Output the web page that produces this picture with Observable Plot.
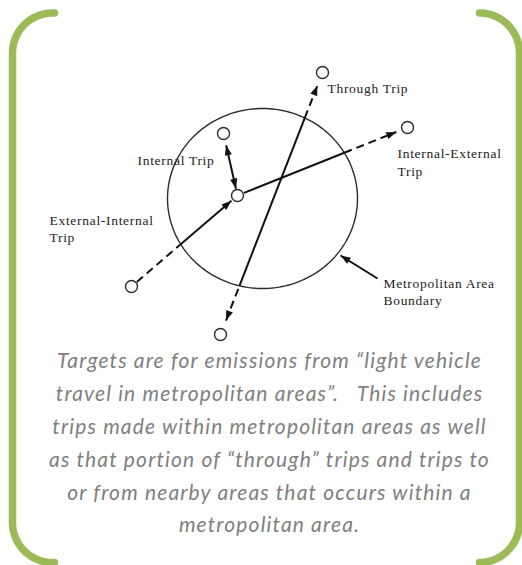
<!DOCTYPE html>
<html>
<head>
<meta charset="utf-8">
<script src="https://cdn.jsdelivr.net/npm/d3@7"></script>
<script src="https://cdn.jsdelivr.net/npm/@observablehq/plot@0.6"></script>
<style>
  html, body { margin: 0; padding: 0; background: #fff; }
  #chart svg { display: block; }
  g[font-family="Liberation Serif"] { letter-spacing: 0.7px; }
  g[font-family="Lato"] { letter-spacing: 1.15px; }
</style>
</head>
<body>
<div id="chart"></div>
<script>
// ---------- data ----------
const W = 522, H = 565;

// Metropolitan area boundary (ellipse): centre and radii
const boundaryCenter = [262, 198];
const boundaryRadii = [95, 90];

// Trip end points (small circles)
const nodeIds = ["center", "internal", "internalExternal", "externalInternal", "throughTop", "throughBottom"];
const nodeX = [237, 223, 407, 131, 322, 220];
const nodeY = [195, 133, 127, 286, 72, 334];

// Trips: from node, to node, arrowhead at start / end, gap of the line tip from node centre
const tripNames = ["Internal", "External-Internal", "Internal-External", "Through"];
const tripFrom = ["center", "externalInternal", "center", "throughBottom"];
const tripTo = ["internal", "center", "internalExternal", "throughTop"];
const tripArrowStart = [true, false, false, true];
const tripArrowEnd = [true, true, true, true];
const tripGapStart = [7, 7, 7, 15];
const tripGapEnd = [12, 8, 12, 14];

// Pointer to the boundary
const pointerFrom = [377, 278];
const pointerTo = [340, 255];

// Diagram labels (one row per line)
const labelText = ["Through Trip", "Internal Trip", "Internal-External", "Trip", "External-Internal", "Trip", "Metropolitan Area", "Boundary"];
const labelX = [327, 137, 397, 397, 49, 49, 383, 383];
const labelY = [92, 164, 157, 175, 224, 241, 287, 304];

// Caption lines
const captionLines = [
  "Targets are for emissions from \u201Clight vehicle",
  "travel in metropolitan areas\u201D.   This includes",
  "trips made within metropolitan areas as well",
  "as that portion of \u201Cthrough\u201D trips and trips to",
  "or from nearby areas that occurs within a",
  "metropolitan area."
];
const captionX = 269;
const captionY = [367, 400, 433, 466, 499, 531];

// Green frame brackets
const frameLeft = 12, frameRight = 519, frameTop = 12.5, frameBottom = 562;
const frameLeftEnd = 54, frameRightStart = 483, frameRadius = 40;

// ---------- geometry helpers ----------
const node = Object.fromEntries(nodeIds.map((id, i) => [id, {id, x: nodeX[i], y: nodeY[i]}]));

function ellipseInside(x, y) {
  const dx = (x - boundaryCenter[0]) / boundaryRadii[0], dy = (y - boundaryCenter[1]) / boundaryRadii[1];
  return dx * dx + dy * dy < 1;
}
function ellipseHits(p, q) {
  const [cx, cy] = boundaryCenter, [rx, ry] = boundaryRadii;
  const ax = (p.x - cx) / rx, ay = (p.y - cy) / ry;
  const bx = (q.x - p.x) / rx, by = (q.y - p.y) / ry;
  const A = bx * bx + by * by, B = 2 * (ax * bx + ay * by), C = ax * ax + ay * ay - 1;
  const D = B * B - 4 * A * C;
  if (D <= 0) return [];
  const s = Math.sqrt(D);
  return [(-B - s) / (2 * A), (-B + s) / (2 * A)].filter(t => t > 0 && t < 1);
}

const segments = [];
const heads = [];
tripNames.forEach((name, i) => {
  const a = node[tripFrom[i]], b = node[tripTo[i]];
  const len = Math.hypot(b.x - a.x, b.y - a.y);
  const ux = (b.x - a.x) / len, uy = (b.y - a.y) / len;
  const p = {x: a.x + ux * tripGapStart[i], y: a.y + uy * tripGapStart[i]};
  const q = {x: b.x - ux * tripGapEnd[i], y: b.y - uy * tripGapEnd[i]};
  const ts = [0, ...ellipseHits(p, q), 1];
  for (let k = 0; k < ts.length - 1; k++) {
    const t0 = ts[k], t1 = ts[k + 1], tm = (t0 + t1) / 2;
    const mx = p.x + (q.x - p.x) * tm, my = p.y + (q.y - p.y) * tm;
    segments.push({
      trip: name,
      x1: p.x + (q.x - p.x) * t0, y1: p.y + (q.y - p.y) * t0,
      x2: p.x + (q.x - p.x) * t1, y2: p.y + (q.y - p.y) * t1,
      inside: ellipseInside(mx, my)
    });
  }
  const ang = Math.atan2(ux, -uy) * 180 / Math.PI;
  if (tripArrowEnd[i]) heads.push({x: q.x, y: q.y, angle: ang});
  if (tripArrowStart[i]) heads.push({x: p.x, y: p.y, angle: ang + 180});
});
{
  const dx = pointerTo[0] - pointerFrom[0], dy = pointerTo[1] - pointerFrom[1];
  heads.push({x: pointerTo[0], y: pointerTo[1], angle: Math.atan2(dx, -dy) * 180 / Math.PI});
}

const boundaryPts = d3.range(0, 361, 2).map(deg => {
  const a = deg * Math.PI / 180;
  return {x: boundaryCenter[0] + boundaryRadii[0] * Math.cos(a), y: boundaryCenter[1] + boundaryRadii[1] * Math.sin(a)};
});

function arc(cx, cy, r, a0, a1, side) {
  return d3.range(0, 21).map(k => {
    const a = (a0 + (a1 - a0) * k / 20) * Math.PI / 180;
    return {x: cx + r * Math.cos(a), y: cy + r * Math.sin(a), side};
  });
}
const R = frameRadius;
const bracketPts = [
  {x: frameLeftEnd, y: frameTop, side: "L"},
  ...arc(frameLeft + R, frameTop + R, R, -90, -180, "L"),
  ...arc(frameLeft + R, frameBottom - R, R, 180, 90, "L"),
  {x: frameLeftEnd, y: frameBottom, side: "L"},
  {x: frameRightStart, y: frameTop, side: "R"},
  ...arc(frameRight - R, frameTop + R, R, -90, 0, "R"),
  ...arc(frameRight - R, frameBottom - R, R, 0, 90, "R"),
  {x: frameRightStart, y: frameBottom, side: "R"}
];

const arrowSymbol = {
  draw(ctx) {
    ctx.moveTo(0, 0);
    ctx.lineTo(3.6, 10);
    ctx.lineTo(-3.6, 10);
    ctx.closePath();
  }
};

const labels = labelText.map((t, i) => ({t, x: labelX[i], y: labelY[i]}));
const captions = captionLines.map((t, i) => ({t, x: captionX, y: captionY[i]}));
const nodes = nodeIds.map(id => node[id]);

const chart = Plot.plot({
  width: W,
  height: H,
  margin: 0,
  x: {domain: [0, W], range: [0, W], axis: null},
  y: {domain: [0, H], range: [0, H], axis: null},
  marks: [
    Plot.line(bracketPts, {x: "x", y: "y", z: "side", stroke: "#9bbb59", strokeWidth: 7.5, strokeLinejoin: "round"}),
    Plot.line(boundaryPts, {x: "x", y: "y", stroke: "#2b2b2b", strokeWidth: 1.4}),
    Plot.link(segments.filter(d => d.inside), {x1: "x1", y1: "y1", x2: "x2", y2: "y2", stroke: "#111", strokeWidth: 2}),
    Plot.link(segments.filter(d => !d.inside), {x1: "x1", y1: "y1", x2: "x2", y2: "y2", stroke: "#111", strokeWidth: 2, strokeDasharray: "8,5"}),
    Plot.link([{x1: pointerFrom[0], y1: pointerFrom[1], x2: pointerTo[0], y2: pointerTo[1]}], {x1: "x1", y1: "y1", x2: "x2", y2: "y2", stroke: "#111", strokeWidth: 2}),
    Plot.dot(heads, {x: "x", y: "y", rotate: "angle", symbol: arrowSymbol, r: 4, fill: "#111", stroke: "none"}),
    Plot.dot(nodes, {x: "x", y: "y", r: 6, fill: "white", stroke: "#2b2b2b", strokeWidth: 1.4}),
    Plot.text(labels, {x: "x", y: "y", text: "t", textAnchor: "start", lineAnchor: "bottom", fontFamily: "Liberation Serif", fontSize: 13.5, fill: "#222"}),
    Plot.text(captions, {x: "x", y: "y", text: "t", textAnchor: "middle", lineAnchor: "bottom", fontFamily: "Lato", fontStyle: "italic", fontSize: 21, fill: "#808080"})
  ]
});
document.getElementById("chart").appendChild(chart);
</script>
</body>
</html>
